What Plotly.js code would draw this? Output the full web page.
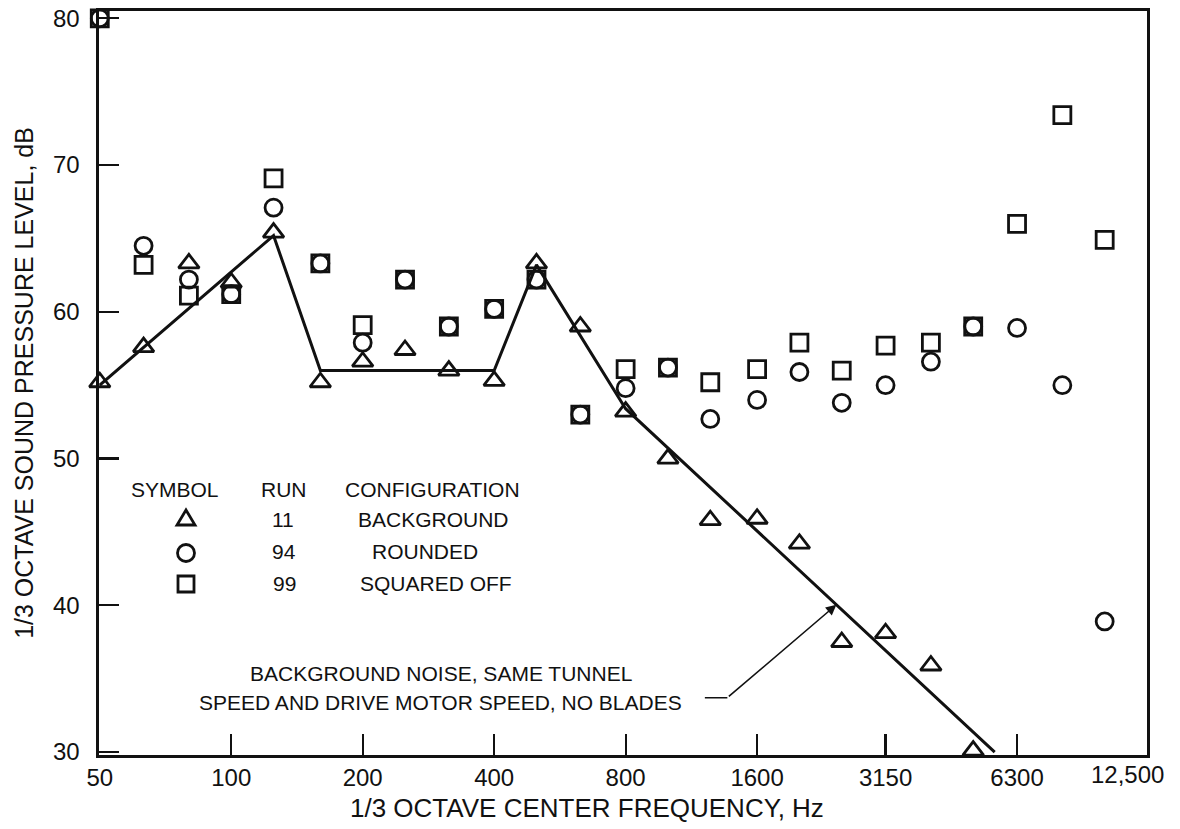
<!DOCTYPE html>
<html>
<head>
<meta charset="utf-8">
<script src="https://cdn.plot.ly/plotly-3.0.1.min.js"></script>
<style>
html,body{margin:0;padding:0;background:#fff;}
#chart{width:1180px;height:829px;}
</style>
</head>
<body>
<div id="chart"></div>
<script>
// 1/3 octave band centre frequencies, Hz
const freqs = [50,63,80,100,125,160,200,250,315,400,500,630,800,1000,1250,1600,2000,2500,3150,4000,5000,6300,8000,10000];
// Run 11 - background (triangles)
const run11Background = [55.2,57.6,63.3,62.0,65.4,55.2,56.6,57.4,56.0,55.3,63.3,59.0,53.2,50.0,45.8,45.9,44.2,37.5,38.1,35.9,30.1,null,null,null];
// Run 94 - rounded (circles)
const run94Rounded = [80.0,64.5,62.2,61.2,67.1,63.3,57.9,62.2,59.0,60.2,62.2,53.0,54.8,56.2,52.7,54.0,55.9,53.8,55.0,56.6,59.0,58.9,55.0,38.9];
// Run 99 - squared off (squares)
const run99Squared = [80.0,63.2,61.1,61.2,69.1,63.3,59.1,62.2,59.0,60.2,62.2,53.0,56.1,56.2,55.2,56.1,57.9,56.0,57.7,57.9,59.0,66.0,73.4,64.9];
// Faired background-noise curve
const fairingFreqs = [50,125,160,400,500,800,5600];
const fairingLevels = [55.0,65.2,56.0,56.0,63.2,53.4,30.0];
// Axis ticks
const xTickVals = [50,100,200,400,800,1600,3150,6300];
const xTickText = ['50','100','200','400','800','1600','3150','6300'];
const xEdgeLabel = '12,500';
const yTickVals = [30,40,50,60,70,80];
// Legend table
const legendHeader = ['SYMBOL','RUN','CONFIGURATION'];
const legendRuns = ['11','94','99'];
const legendConfigs = ['BACKGROUND','ROUNDED','SQUARED OFF'];
const noteLines = ['BACKGROUND NOISE, SAME TUNNEL','SPEED AND DRIVE MOTOR SPEED, NO BLADES'];
const arrowTipFreq = 2430;

const INK = '#111';
const FONT = '"Liberation Sans", Arial, Helvetica, sans-serif';
const mk = (symbol, size) => ({symbol: symbol, size: size, color: INK, line: {color: INK, width: 2.8}});

// fairing value at arrow tip (log interpolation along faired curve)
function fairAt(f) {
  for (let i = 0; i < fairingFreqs.length - 1; i++) {
    const a = fairingFreqs[i], b = fairingFreqs[i+1];
    if (f >= a && f <= b) {
      const t = Math.log(f/a) / Math.log(b/a);
      return fairingLevels[i] + t * (fairingLevels[i+1] - fairingLevels[i]);
    }
  }
  return fairingLevels[fairingLevels.length-1];
}

const traces = [
  {x: fairingFreqs, y: fairingLevels, mode: 'lines', line: {color: INK, width: 3}, name: 'fairing', hoverinfo: 'skip'},
  {x: freqs, y: run11Background, mode: 'markers', marker: mk('triangle-up-open', 18), name: 'Run 11 BACKGROUND', cliponaxis: false},
  {x: freqs, y: run94Rounded, mode: 'markers', marker: mk('circle-open', 17), name: 'Run 94 ROUNDED', cliponaxis: false},
  {x: freqs, y: run99Squared, mode: 'markers', marker: mk('square-open', 17), name: 'Run 99 SQUARED OFF', cliponaxis: false}
];

// plot-area geometry helpers for paper coordinates
const L = 99, R = 1147, T = 11, B = 755;
const px = v => (v - L) / (R - L);
const py = v => (B - v) / (B - T);

const txt = (text, x, y, size) => ({text: text, x: px(x), y: py(y), xref: 'paper', yref: 'paper',
  showarrow: false, xanchor: 'center', yanchor: 'middle', font: {size: size || 21, color: INK, family: FONT}});

const annotations = [
  txt(legendHeader[0], 175, 489), txt(legendHeader[1], 284, 489), txt(legendHeader[2], 432, 489),
  txt(legendRuns[0], 283, 519), txt(legendConfigs[0], 433, 519),
  txt(legendRuns[1], 284, 551), txt(legendConfigs[1], 425, 551),
  txt(legendRuns[2], 284, 583), txt(legendConfigs[2], 436, 583),
  txt(noteLines[0], 441, 673), txt(noteLines[1], 440, 702),
  // x-axis title
  {text: '1/3 OCTAVE CENTER FREQUENCY, Hz', x: px(587), y: py(808), xref: 'paper', yref: 'paper', showarrow: false,
   xanchor: 'center', yanchor: 'middle', font: {size: 26, color: INK, family: FONT}},
  // last x tick label, pulled left of the frame corner
  {text: xEdgeLabel, x: 1, y: 0, xref: 'paper', yref: 'paper', showarrow: false, xanchor: 'center', yanchor: 'top',
   xshift: -20, yshift: -4, font: {size: 24, color: INK, family: FONT}},
  // pointer arrow to the faired curve
  {text: '', x: Math.log10(arrowTipFreq), y: fairAt(arrowTipFreq), xref: 'x', yref: 'y', showarrow: true,
   ax: -109, ay: 93, arrowhead: 2, arrowsize: 1.3, arrowwidth: 1.6, arrowcolor: INK},
  {text: '', x: Math.log10(arrowTipFreq), y: fairAt(arrowTipFreq), xref: 'x', yref: 'y', showarrow: true,
   xshift: -109, yshift: -93, ax: -24, ay: 0, arrowhead: 0, arrowwidth: 1.6, arrowcolor: INK}
];

const symLine = {color: INK, width: 2.8};
const shapes = [
  {type: 'path', xref: 'paper', yref: 'paper', xsizemode: 'pixel', ysizemode: 'pixel', xanchor: px(186), yanchor: py(518),
   path: 'M -9 -7 L 9 -7 L 0 8 Z', line: symLine},
  {type: 'circle', xref: 'paper', yref: 'paper', xsizemode: 'pixel', ysizemode: 'pixel', xanchor: px(186), yanchor: py(553),
   x0: -8.5, x1: 8.5, y0: -8.5, y1: 8.5, line: symLine},
  {type: 'rect', xref: 'paper', yref: 'paper', xsizemode: 'pixel', ysizemode: 'pixel', xanchor: px(186), yanchor: py(584),
   x0: -8, x1: 8, y0: -8, y1: 8, line: symLine}
];

const layout = {
  width: 1180, height: 829,
  margin: {l: L, r: 1180 - R, t: T, b: 829 - B, pad: 0},
  paper_bgcolor: '#fff', plot_bgcolor: '#fff',
  showlegend: false,
  font: {family: FONT, color: INK},
  xaxis: {type: 'log', range: [Math.log10(49.8), Math.log10(12500)], tickmode: 'array', tickvals: xTickVals, ticktext: xTickText,
    ticks: 'inside', ticklen: 21, tickwidth: 2.2, tickcolor: INK, showline: true, linewidth: 2.6, linecolor: INK, mirror: true,
    showgrid: false, zeroline: false, tickfont: {size: 24, color: INK, family: FONT}},
  yaxis: {range: [29.8, 80.5], tickmode: 'array', tickvals: yTickVals, ticks: 'inside', ticklen: 20, tickwidth: 2.2, tickcolor: INK,
    showline: true, linewidth: 2.6, linecolor: INK, mirror: true, showgrid: false, zeroline: false,
    tickfont: {size: 24, color: INK, family: FONT}, ticklabelstandoff: 12,
    title: {text: '1/3 OCTAVE SOUND PRESSURE LEVEL, dB', font: {size: 25, color: INK, family: FONT}, standoff: 12}},
  annotations: annotations,
  shapes: shapes
};

Plotly.newPlot('chart', traces, layout, {staticPlot: true, displayModeBar: false});
</script>
</body>
</html>
